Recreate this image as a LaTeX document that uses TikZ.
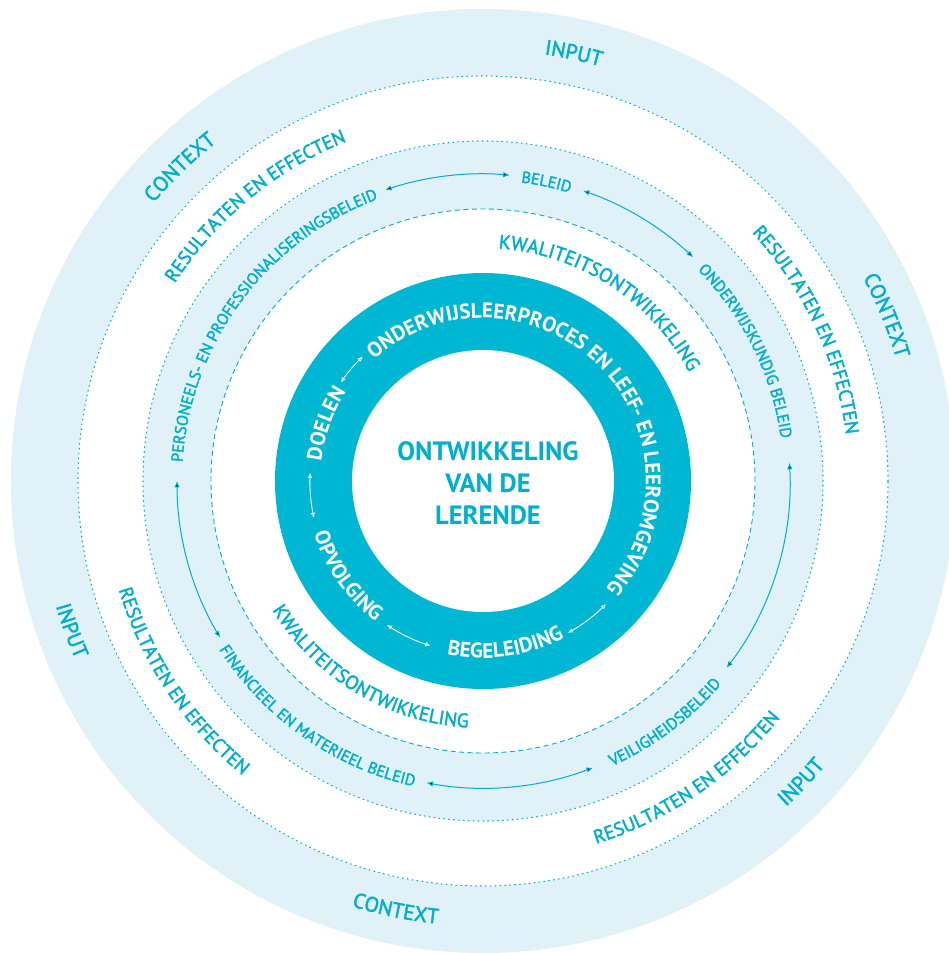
\documentclass[tikz,border=0pt]{standalone}
\usepackage{fontspec}
\setmainfont{PT Sans}
\newfontfamily\medfont{PT Sans}[FakeBold=2]
\usetikzlibrary{decorations.text,arrows.meta}
\definecolor{ring}{RGB}{0,183,211}
\definecolor{band}{RGB}{224,241,247}
\definecolor{ink}{RGB}{0,174,206}
% clockwise text (tops outward): #1 centre angle, #2 baseline radius, #3 font, #4 colour, #5 text
\newcommand\cwtext[5]{%
  \path[decorate,decoration={text along path,text align=center,text color=#4,text={|#3|#5}}]
    ({#1+95}:#2pt) arc[start angle={#1+95},end angle={#1-95},radius=#2pt];}
% counter-clockwise text (tops inward)
\newcommand\ccwtext[5]{%
  \path[decorate,decoration={text along path,text align=center,text color=#4,text={|#3|#5}}]
    ({#1-95}:#2pt) arc[start angle={#1-95},end angle={#1+95},radius=#2pt];}
\newcommand\fouter{\medfont\fontsize{21}{21}\selectfont}
\newcommand\fres{\medfont\fontsize{19}{19}\selectfont}
\newcommand\fband{\medfont\fontsize{16}{16}\selectfont}
\newcommand\fkwal{\medfont\fontsize{19.5}{19.5}\selectfont}
\newcommand\fring{\fontsize{21}{21}\selectfont\bfseries}
\begin{document}
\begin{tikzpicture}[x=1pt,y=1pt,
  dotcircle/.style={draw=ink,line width=1.1pt,dash pattern=on 0.9pt off 4pt,line cap=round},
  dashcircle/.style={draw=ink,line width=0.9pt,dash pattern=on 5pt off 3.5pt},
  bandarrow/.style={draw=ink,line width=1pt,{Latex[length=6.5pt,width=5.5pt]}-{Latex[length=6.5pt,width=5.5pt]}},
  ringarrow/.style={draw=white,line width=0.9pt,{Latex[length=5pt,width=4.5pt]}-{Latex[length=5pt,width=4.5pt]}}]
\useasboundingbox (-483,-472) rectangle (466,481);
% rings
\fill[band] (0,0) circle[radius=472pt];
\fill[white] (0,0) circle[radius=405pt];
\path[dotcircle] (0,0) circle[radius=405pt];
\fill[band] (0,0) circle[radius=340pt];
\path[dotcircle] (0,0) circle[radius=340pt];
\fill[white] (0,0) circle[radius=272pt];
\path[dashcircle] (0,0) circle[radius=272pt];
\fill[ring] (0,0) circle[radius=208pt];
\fill[white] (0,0) circle[radius=131pt];
% outer band labels
\cwtext{78}{431}{\fouter}{ink}{INPUT}
\cwtext{134}{431}{\fouter}{ink}{CONTEXT}
\cwtext{22.3}{431}{\fouter}{ink}{CONTEXT}
\ccwtext{200}{445}{\fouter}{ink}{INPUT}
\ccwtext{-43.4}{445}{\fouter}{ink}{INPUT}
\ccwtext{258.5}{445}{\fouter}{ink}{CONTEXT}
% results band
\cwtext{129.6}{366}{\fres}{ink}{RESULTATEN EN EFFECTEN}
\cwtext{25}{366}{\fres}{ink}{RESULTATEN EN EFFECTEN}
\ccwtext{213.7}{380}{\fres}{ink}{RESULTATEN EN EFFECTEN}
\ccwtext{-55.6}{380}{\fres}{ink}{RESULTATEN EN EFFECTEN}
% policy band
\cwtext{78}{301}{\fband}{ink}{BELEID}
\cwtext{26.3}{301}{\fband}{ink}{ONDERWIJSKUNDIG BELEID}
\cwtext{143.4}{301}{\fband}{ink}{PERSONEELS- EN PROFESSIONALISERINGSBELEID}
\ccwtext{-53}{313}{\fband}{ink}{VEILIGHEIDSBELEID}
\ccwtext{234.9}{313}{\fband}{ink}{FINANCIEEL EN MATERIEEL BELEID}
% policy arrows
\path[bandarrow] (108.6:307pt) arc[start angle=108.6,end angle=85,radius=307pt];
\path[bandarrow] (71:307pt) arc[start angle=71,end angle=46.8,radius=307pt];
\path[bandarrow] (3.4:307pt) arc[start angle=3.4,end angle=-37.5,radius=307pt];
\path[bandarrow] (-69:307pt) arc[start angle=-69,end angle=-100.6,radius=307pt];
\path[bandarrow] (180:306pt) arc[start angle=180,end angle=210.8,radius=306pt];
% quality band
\cwtext{57}{233}{\fkwal}{ink}{KWALITEITSONTWIKKELING}
\ccwtext{239}{247}{\fkwal}{ink}{KWALITEITSONTWIKKELING}
% dark ring
\cwtext{45.4}{163}{\fring}{white}{ONDERWIJSLEERPROCES EN LEEF- EN LEEROMGEVING}
\cwtext{160}{163}{\fring}{white}{DOELEN}
\ccwtext{215}{177}{\fring}{white}{OPVOLGING}
\ccwtext{277.8}{177}{\fring}{white}{BEGELEIDING}
\path[ringarrow] (134:173pt) arc[start angle=134,end angle=145.3,radius=173pt];
\path[ringarrow] (177.3:173pt) arc[start angle=177.3,end angle=192.3,radius=173pt];
\path[ringarrow] (236.3:173pt) arc[start angle=236.3,end angle=252.3,radius=173pt];
\path[ringarrow] (-60.8:174pt) arc[start angle=-60.8,end angle=-45,radius=174pt];
% centre
\node[text=ink,font=\fontsize{26.5}{32}\selectfont\bfseries,align=center] (centre) at (5,-2) {ONTWIKKELING\\VAN DE\\LERENDE};
\end{tikzpicture}
\end{document}
